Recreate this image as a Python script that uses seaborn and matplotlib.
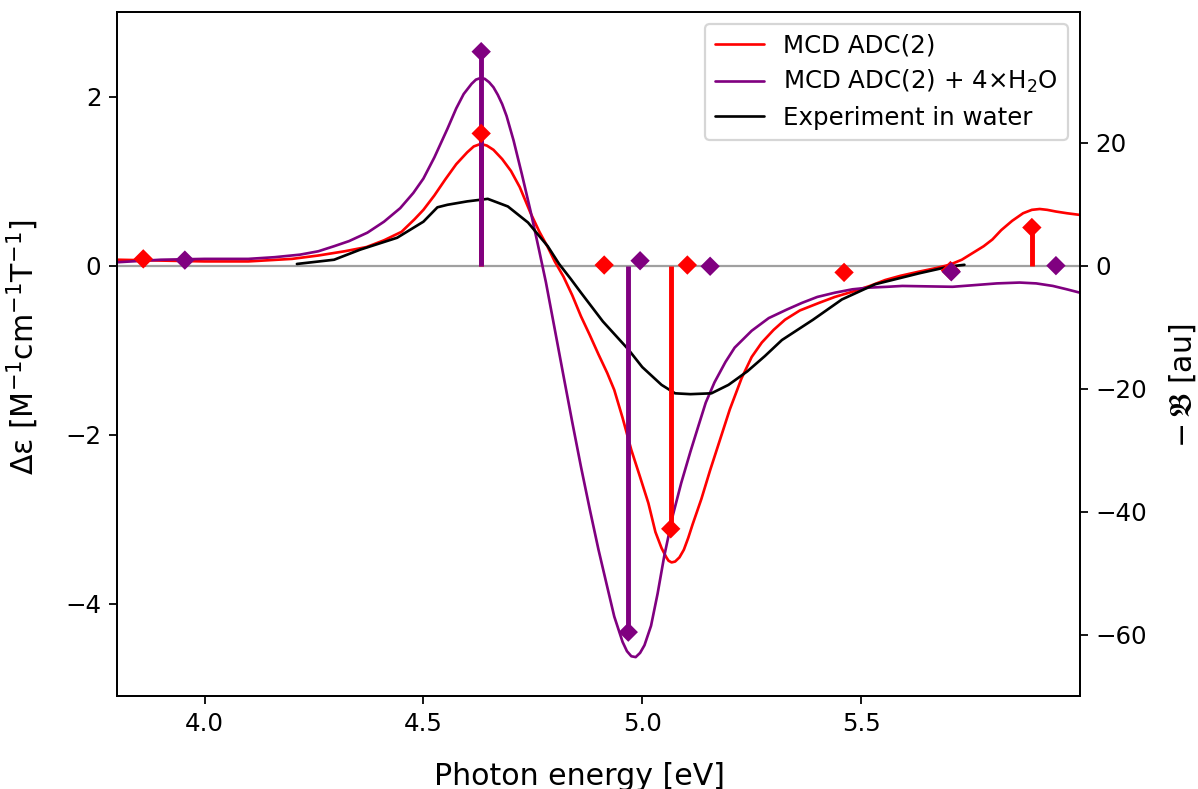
import numpy as np
import pandas as pd
import matplotlib
matplotlib.use("Agg")
import matplotlib.pyplot as plt
import seaborn as sns

# ---- data ----
# broadened spectra, left axis (Delta epsilon)
red_x = [3.80, 3.90, 4.00, 4.10, 4.20, 4.26, 4.32, 4.37, 4.41, 4.45, 4.48, 4.50, 4.525, 4.55,
         4.575, 4.60, 4.615, 4.631, 4.645, 4.66, 4.68, 4.70, 4.72, 4.745, 4.765, 4.784, 4.80,
         4.82, 4.84, 4.86, 4.88, 4.90, 4.92, 4.936, 4.955, 4.975, 4.995, 5.014, 5.03, 5.044,
         5.055, 5.06, 5.067, 5.075, 5.085, 5.095, 5.105, 5.115, 5.125, 5.135, 5.155, 5.18, 5.20,
         5.227, 5.25, 5.273, 5.30, 5.326, 5.36, 5.404, 5.44, 5.479, 5.52, 5.555, 5.59, 5.633,
         5.67, 5.702, 5.73, 5.755, 5.78, 5.80, 5.82, 5.845, 5.87, 5.89, 5.908, 5.925, 5.945,
         5.97, 6.00]
red_y = [0.07, 0.06, 0.05, 0.05, 0.08, 0.12, 0.17, 0.22, 0.30, 0.40, 0.55, 0.66, 0.83, 1.02,
         1.20, 1.34, 1.41, 1.44, 1.42, 1.37, 1.26, 1.12, 0.93, 0.62, 0.40, 0.22, 0.05,
         -0.13, -0.35, -0.60, -0.82, -1.05, -1.27, -1.47, -1.80, -2.18, -2.50, -2.81, -3.15, -3.34,
         -3.45, -3.49, -3.51, -3.50, -3.45, -3.36, -3.22, -3.06, -2.91, -2.76, -2.42, -2.02, -1.70,
         -1.33, -1.08, -0.91, -0.76, -0.64, -0.53, -0.44, -0.37, -0.31, -0.24, -0.17, -0.12, -0.07,
         -0.03, 0.01, 0.07, 0.15, 0.23, 0.31, 0.42, 0.53, 0.62, 0.66, 0.67, 0.66, 0.64,
         0.62, 0.60]

purple_x = [3.80, 3.90, 4.00, 4.10, 4.16, 4.218, 4.26, 4.296, 4.33, 4.372, 4.41, 4.447, 4.477,
            4.50, 4.525, 4.555, 4.575, 4.592, 4.61, 4.62, 4.631, 4.64, 4.65, 4.66, 4.67, 4.68,
            4.69, 4.706, 4.725, 4.745, 4.764, 4.78, 4.80, 4.821, 4.84, 4.86, 4.88, 4.90, 4.92,
            4.936, 4.955, 4.965, 4.975, 4.985, 4.995, 5.005, 5.02, 5.035, 5.05, 5.07, 5.089,
            5.11, 5.128, 5.145, 5.165, 5.19, 5.211, 5.25, 5.289, 5.33, 5.365, 5.40, 5.44, 5.48,
            5.518, 5.56, 5.594, 5.65, 5.709, 5.76, 5.81, 5.862, 5.90, 5.938, 5.97, 6.00]
purple_y = [0.04, 0.07, 0.08, 0.08, 0.10, 0.13, 0.17, 0.23, 0.29, 0.39, 0.52, 0.68, 0.86,
            1.03, 1.28, 1.62, 1.86, 2.03, 2.15, 2.20, 2.22, 2.21, 2.17, 2.11, 2.02, 1.91,
            1.77, 1.48, 1.08, 0.64, 0.19, -0.20, -0.75, -1.33, -1.85, -2.38, -2.88, -3.36, -3.80,
            -4.15, -4.45, -4.56, -4.62, -4.63, -4.58, -4.49, -4.26, -3.88, -3.44, -2.95, -2.57,
            -2.20, -1.90, -1.62, -1.38, -1.14, -0.97, -0.77, -0.62, -0.52, -0.44, -0.37, -0.32, -0.28,
            -0.26, -0.25, -0.24, -0.245, -0.25, -0.23, -0.21, -0.20, -0.21, -0.24, -0.28, -0.32]

exp_x = [4.211, 4.296, 4.356, 4.41, 4.44, 4.50, 4.532, 4.555, 4.60, 4.647, 4.693, 4.739, 4.784,
         4.81, 4.837, 4.86, 4.91, 4.968, 5.00, 5.044, 5.075, 5.11, 5.158, 5.197, 5.24, 5.28,
         5.319, 5.39, 5.456, 5.532, 5.633, 5.702, 5.736]
exp_y = [0.02, 0.07, 0.19, 0.28, 0.33, 0.52, 0.69, 0.72, 0.76, 0.79, 0.70, 0.51, 0.23,
         0.02, -0.16, -0.32, -0.66, -0.99, -1.20, -1.41, -1.51, -1.52, -1.51, -1.41, -1.25, -1.07,
         -0.88, -0.64, -0.40, -0.22, -0.09, -0.01, 0.01]

# stick spectra, right axis (-B term, au)
red_stick_x = [3.86, 4.632, 4.913, 5.065, 5.103, 5.461, 5.704, 5.89]
red_stick_y = [1.1, 21.5, 0.1, -42.8, 0.1, -1.1, -0.8, 6.2]
purple_stick_x = [3.955, 4.632, 4.968, 4.995, 5.155, 5.706, 5.945]
purple_stick_y = [0.9, 34.8, -59.6, 0.8, -0.1, -1.0, 0.0]

labels = ["MCD ADC(2)", "MCD ADC(2) + 4×H$_2$O", "Experiment in water"]
RED = "#ff0000"
PURPLE = "#800080"

sns.set_style("ticks", {"axes.edgecolor": "black", "text.color": "black",
                        "xtick.color": "black", "ytick.color": "black",
                        "axes.labelcolor": "black"})
plt.rcParams["font.family"] = ["DejaVu Sans"]
plt.rcParams["mathtext.fontset"] = "dejavusans"

fig = plt.figure(figsize=(1198 / 160, 789 / 160), dpi=160)
ax = fig.add_axes([117 / 1198, 1 - 696 / 789, (1080 - 117) / 1198, (696 - 12) / 789])

ax.axhline(0, color="#a0a0a0", lw=1.0, zorder=1)
sns.lineplot(x=red_x, y=red_y, ax=ax, color=RED, lw=1.2, label=labels[0], sort=False)
sns.lineplot(x=purple_x, y=purple_y, ax=ax, color=PURPLE, lw=1.2, label=labels[1], sort=False)
sns.lineplot(x=exp_x, y=exp_y, ax=ax, color="black", lw=1.2, label=labels[2], sort=False)

ax.set_xlim(3.8, 6.0)
ax.set_ylim(-5.09, 3.0)
ax.set_xticks([4.0, 4.5, 5.0, 5.5])
ax.set_yticks([-4, -2, 0, 2])
ax.set_xlabel("Photon energy [eV]", fontsize=13.5, labelpad=12)
ax.set_ylabel("Δε [M$^{-1}$cm$^{-1}$T$^{-1}$]", fontsize=13.5, labelpad=11)
ax.yaxis.label.set_y(0.51)
ax.xaxis.label.set_x(0.48)
ax.tick_params(labelsize=11)

ax2 = ax.twinx()
ax2.vlines(red_stick_x, 0, red_stick_y, color=RED, lw=2.2)
ax2.vlines(purple_stick_x, 0, purple_stick_y, color=PURPLE, lw=2.2)
sns.scatterplot(x=red_stick_x, y=red_stick_y, ax=ax2, color=RED, marker="D", s=38,
                edgecolor="none", zorder=3, legend=False)
sns.scatterplot(x=purple_stick_x, y=purple_stick_y, ax=ax2, color=PURPLE, marker="D", s=38,
                edgecolor="none", zorder=4, legend=False)
ax2.set_ylim(-5.09 * 13.75, 3.0 * 13.75)
ax2.set_yticks([-60, -40, -20, 0, 20])
ax2.set_ylabel(r"$-\,\mathfrak{B}$ [au]", fontsize=13.5, labelpad=9)
ax2.yaxis.label.set_y(0.453)
ax2.tick_params(labelsize=11)

ax.get_legend().remove()
h, l = ax.get_legend_handles_labels()
ax2.legend(h, l, loc="upper right", fontsize=11, frameon=True, labelspacing=0.42)

fig.savefig("out.png", dpi=160)
